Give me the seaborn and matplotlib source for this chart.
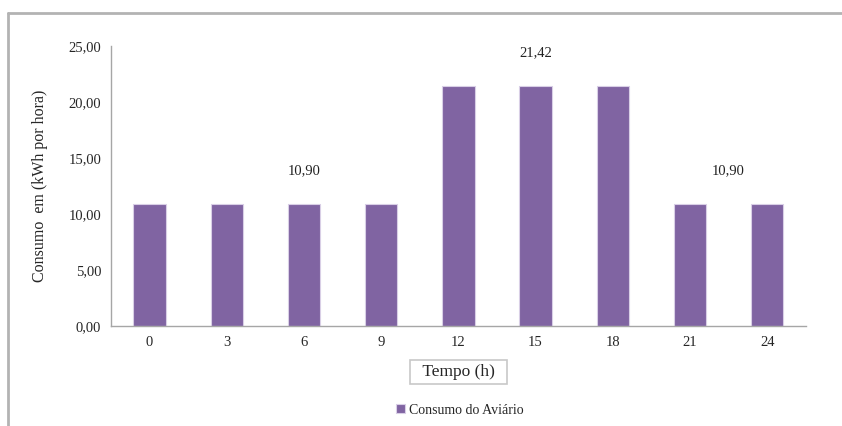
import matplotlib
matplotlib.use("Agg")
import matplotlib.pyplot as plt
from matplotlib.lines import Line2D
from matplotlib.ticker import FixedLocator, FuncFormatter
import seaborn as sns
import pandas as pd

# Dados do gráfico
horas = ["0", "3", "6", "9", "12", "15", "18", "21", "24"]
consumo = [10.90, 10.90, 10.90, 10.90, 21.42, 21.42, 21.42, 10.90, 10.90]

# Rótulos de valor: (posição na categoria, valor)
rotulos_pos = [2, 5, 7.5]
rotulos_val = [10.90, 21.42, 10.90]

y_ticks = [0, 5, 10, 15, 20, 25]

COR_BARRA = "#8064A2"
COR_EIXO = "#a6a6a6"

sns.set_style("white")
plt.rcParams["font.family"] = ["Liberation Serif", "DejaVu Serif"]

df = pd.DataFrame({"Tempo (h)": horas, "Consumo do Aviário": consumo})

fig = plt.figure(figsize=(8.42, 4.26), dpi=100)
ax = fig.add_axes([0.1318, 0.2347, 0.8252, 0.6573])

sns.barplot(
    data=df, x="Tempo (h)", y="Consumo do Aviário",
    color=COR_BARRA, width=0.42, edgecolor="#d9cfe6", linewidth=0.8,
    saturation=1, ax=ax, label="Consumo do Aviário",
)

ax.set_xlim(-0.5, len(horas) - 0.5)
ax.set_ylim(0, 25)
ax.set_yticks(y_ticks)
ax.yaxis.set_major_formatter(FuncFormatter(lambda v, p: f"{v:.2f}".replace(".", ",")))

# ticks do eixo x nos limites das categorias
ax.xaxis.set_minor_locator(FixedLocator([i - 0.5 for i in range(len(horas) + 1)]))
ax.tick_params(axis="x", which="major", length=0, labelsize=10.5, pad=7)
ax.tick_params(axis="x", which="minor", length=4, color=COR_EIXO, direction="out")
ax.tick_params(axis="y", length=4, color=COR_EIXO, direction="out", labelsize=10.5, pad=3)

for s in ["top", "right"]:
    ax.spines[s].set_visible(False)
for s in ["left", "bottom"]:
    ax.spines[s].set_color(COR_EIXO)
    ax.spines[s].set_linewidth(1.0)

for pos, val in zip(rotulos_pos, rotulos_val):
    ax.text(pos, val + 3.0, f"{val:.2f}".replace(".", ","),
            ha="center", va="center", fontsize=10.5, color="#222222")

ax.set_ylabel("Consumo  em (kWh por hora)", fontsize=11.5, labelpad=15)
ax.set_xlabel("  Tempo (h)  ", fontsize=12.5, labelpad=11,
              bbox=dict(boxstyle="square,pad=0.22", facecolor="white",
                        edgecolor="#c8c8c8", linewidth=1.2))
ax.xaxis.label.set_position((0.5, 0))

leg = ax.legend(loc="center", bbox_to_anchor=(0.502, -0.30), frameon=False,
                fontsize=10, handlelength=0.6, handleheight=0.6, handletextpad=0.3)

# moldura externa
fig.add_artist(Line2D([8 / 842, 8 / 842], [0, 1 - 13 / 426],
                      transform=fig.transFigure, color="#b3b3b3", linewidth=2))
fig.add_artist(Line2D([8 / 842, 1], [1 - 13 / 426, 1 - 13 / 426],
                      transform=fig.transFigure, color="#b3b3b3", linewidth=2))

fig.savefig("out.png", dpi=100)
